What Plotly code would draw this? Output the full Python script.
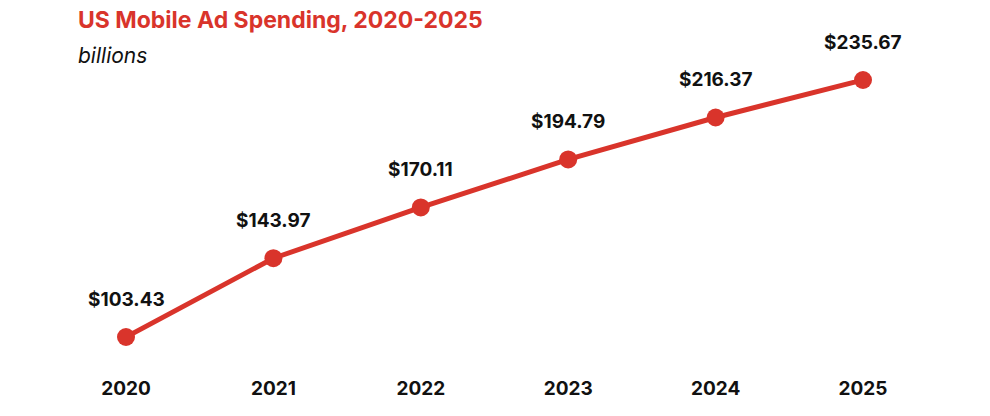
import plotly.graph_objects as go

years = [2020, 2021, 2022, 2023, 2024, 2025]
spending = [103.43, 143.97, 170.11, 194.79, 216.37, 235.67]
labels = [f"${v:.2f}" for v in spending]

red = '#d9342b'

fig = go.Figure()
fig.add_trace(go.Scatter(
    x=years,
    y=spending,
    mode='lines+markers',
    line=dict(color=red, width=5),
    marker=dict(color=red, size=18),
    cliponaxis=False,
    showlegend=False,
))

# value labels above each point
notes = [
    dict(x=x, y=y, text=t, showarrow=False, yshift=38, xref='x', yref='y',
         font=dict(family='Inter', size=19, color='#111111', weight='bold'))
    for x, y, t in zip(years, spending, labels)
]

notes += [
    dict(text='<b>US Mobile Ad Spending, 2020-2025</b>', x=0, y=1, xref='paper', yref='paper',
         xshift=-50, yshift=60, xanchor='left', yanchor='middle', showarrow=False,
         font=dict(family='Inter', size=23, color=red)),
    dict(text='<i>billions</i>', x=0, y=1, xref='paper', yref='paper',
         xshift=-50, yshift=25, xanchor='left', yanchor='middle', showarrow=False,
         font=dict(family='Inter', size=21, color='#111111')),
]

fig.update_layout(
    width=990, height=416,
    margin=dict(l=118, r=135, t=72, b=87),
    plot_bgcolor='white',
    paper_bgcolor='white',
    annotations=notes,
)
fig.update_xaxes(range=[2020, 2025], tickvals=years, ticktext=[str(y) for y in years],
                 showgrid=False, zeroline=False, showline=False, ticks='',
                 ticklabelstandoff=38,
                 tickfont=dict(family='Inter', size=19, color='#111111', weight='bold'))
fig.update_yaxes(range=[103.43, 235.67], visible=False)

fig.write_html("out.html")
